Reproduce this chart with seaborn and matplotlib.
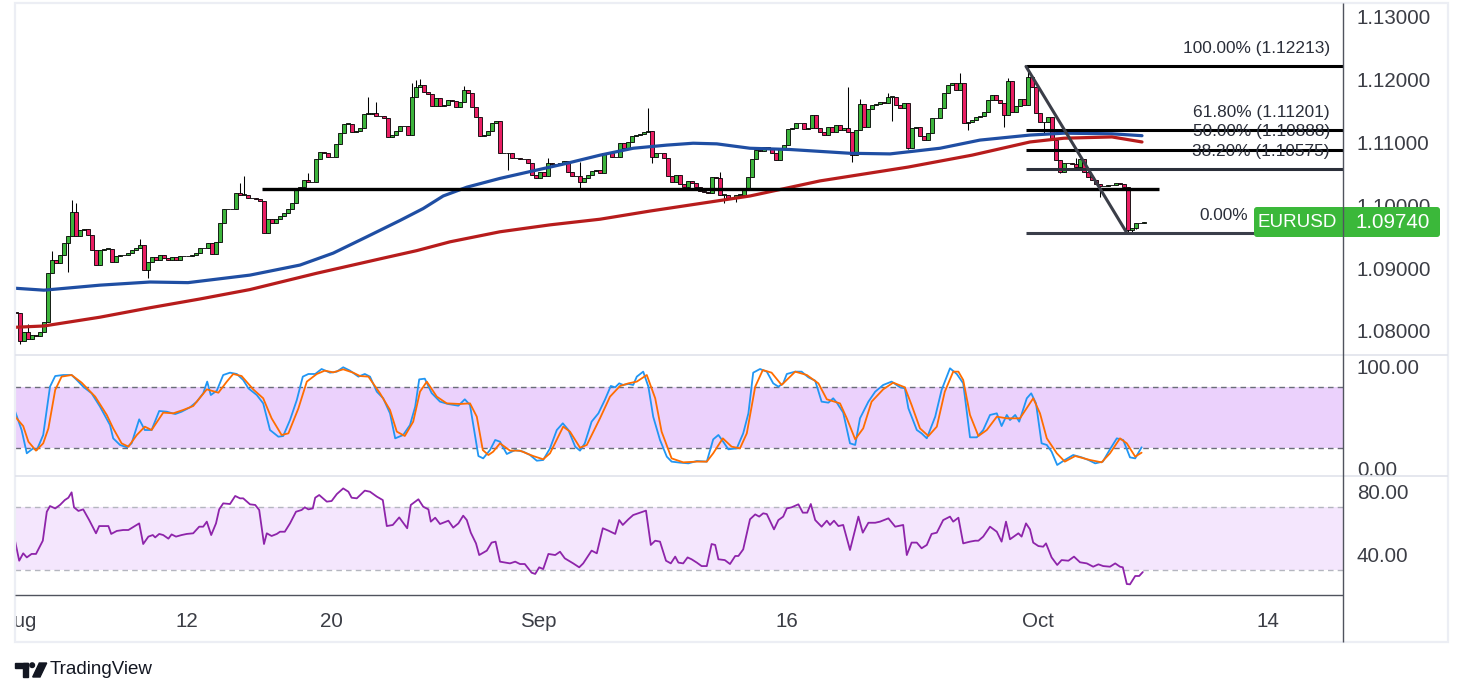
import numpy as np
import matplotlib
matplotlib.use("Agg")
import matplotlib.pyplot as plt
from matplotlib.patches import Rectangle, FancyBboxPatch, Polygon, Circle
import seaborn as sns

# EURUSD 4h candles, Aug 1 -> Oct 8 2024
first_open = 1.0830
closes = [
    1.0829, 1.0784, 1.0798, 1.0787, 1.0794, 1.0792, 1.0798, 1.0814, 1.0892, 1.0913,
    1.0908, 1.0921, 1.0940, 1.0951, 1.0990, 1.0951, 1.0961, 1.0962, 1.0953, 1.0929,
    1.0905, 1.0929, 1.0931, 1.0931, 1.0910, 1.0919, 1.0921, 1.0921, 1.0924, 1.0929,
    1.0932, 1.0937, 1.0897, 1.0910, 1.0918, 1.0913, 1.0921, 1.0916, 1.0913, 1.0918,
    1.0913, 1.0919, 1.0919, 1.0919, 1.0921, 1.0924, 1.0932, 1.0932, 1.0940, 1.0923,
    1.0942, 1.0972, 1.0994, 1.0994, 1.0994, 1.1020, 1.1017, 1.1017, 1.1012, 1.1012,
    1.1010, 1.1007, 1.0956, 1.0978, 1.0972, 1.0978, 1.0983, 1.0988, 1.0994, 1.1004,
    1.1028, 1.1029, 1.1040, 1.1037, 1.1037, 1.1074, 1.1085, 1.1083, 1.1077, 1.1077,
    1.1098, 1.1115, 1.1130, 1.1130, 1.1117, 1.1118, 1.1123, 1.1146, 1.1146, 1.1147,
    1.1142, 1.1142, 1.1139, 1.1109, 1.1112, 1.1118, 1.1126, 1.1126, 1.1112, 1.1173,
    1.1189, 1.1192, 1.1181, 1.1177, 1.1158, 1.1171, 1.1158, 1.1160, 1.1168, 1.1166,
    1.1157, 1.1165, 1.1184, 1.1179, 1.1157, 1.1141, 1.1110, 1.1112, 1.1118, 1.1131,
    1.1134, 1.1083, 1.1083, 1.1083, 1.1075, 1.1075, 1.1074, 1.1074, 1.1067, 1.1048,
    1.1044, 1.1053, 1.1047, 1.1067, 1.1066, 1.1066, 1.1067, 1.1071, 1.1053, 1.1047,
    1.1047, 1.1037, 1.1044, 1.1048, 1.1055, 1.1056, 1.1052, 1.1083, 1.1083, 1.1077,
    1.1077, 1.1099, 1.1091, 1.1101, 1.1110, 1.1112, 1.1114, 1.1117, 1.1118, 1.1077,
    1.1083, 1.1083, 1.1075, 1.1047, 1.1037, 1.1048, 1.1034, 1.1029, 1.1039, 1.1036,
    1.1029, 1.1023, 1.1021, 1.1020, 1.1045, 1.1044, 1.1017, 1.1017, 1.1012, 1.1012,
    1.1017, 1.1017, 1.1024, 1.1045, 1.1074, 1.1088, 1.1087, 1.1093, 1.1091, 1.1083,
    1.1072, 1.1090, 1.1096, 1.1122, 1.1123, 1.1131, 1.1131, 1.1122, 1.1123, 1.1144,
    1.1123, 1.1117, 1.1112, 1.1125, 1.1117, 1.1128, 1.1120, 1.1123, 1.1117, 1.1080,
    1.1120, 1.1161, 1.1125, 1.1153, 1.1160, 1.1161, 1.1165, 1.1163, 1.1173, 1.1173,
    1.1160, 1.1155, 1.1163, 1.1091, 1.1123, 1.1125, 1.1110, 1.1104, 1.1115, 1.1139,
    1.1139, 1.1155, 1.1179, 1.1192, 1.1195, 1.1184, 1.1195, 1.1131, 1.1133, 1.1136,
    1.1141, 1.1142, 1.1149, 1.1168, 1.1176, 1.1168, 1.1163, 1.1144, 1.1198, 1.1149,
    1.1158, 1.1169, 1.1160, 1.1204, 1.1189, 1.1147, 1.1133, 1.1133, 1.1141, 1.1104,
    1.1072, 1.1053, 1.1067, 1.1067, 1.1066, 1.1061, 1.1074, 1.1053, 1.1045, 1.1040,
    1.1034, 1.1031, 1.1031, 1.1032, 1.1032, 1.1036, 1.1034, 1.1029, 1.0961, 1.0964,
    1.0972, 1.0972, 1.0974,
]
# candles whose wicks stick out visibly
wick_highs = {3: 1.0811, 9: 1.0927, 14: 1.1009, 15: 1.1004, 31: 1.0946, 56: 1.1036,
              57: 1.1047, 73: 1.1052, 88: 1.1173, 90: 1.1165, 99: 1.1195, 100: 1.1200,
              101: 1.1202, 112: 1.1190, 133: 1.1075, 141: 1.1069, 158: 1.1155,
              176: 1.1053, 208: 1.1189, 211: 1.1169, 218: 1.1179, 223: 1.1163,
              236: 1.1211, 248: 1.1203, 253: 1.12213, 265: 1.1075}
wick_lows = {1: 1.0780, 13: 1.0894, 33: 1.0884, 123: 1.1056, 141: 1.1026, 159: 1.1067,
             177: 1.1004, 180: 1.1005, 209: 1.1069, 219: 1.1134, 223: 1.1090,
             237: 1.1131, 238: 1.1120, 247: 1.1125, 257: 1.1114, 261: 1.1052,
             271: 1.1013, 278: 1.0958, 279: 1.09563, 280: 1.0962}

# moving averages, sampled along the curves (candle index, price)
ma_blue_x = [0, 7, 21, 33.5, 43, 58.5, 71, 79.3, 87.7, 96, 101.8, 106.8, 112.7, 121,
             129.3, 137.7, 146, 154.3, 162.7, 169.3, 175.2, 183.5, 193.5, 208.5, 218.5,
             231, 241, 253.5, 262, 274, 281.5]
ma_blue_y = [1.0868, 1.0865, 1.0873, 1.0878, 1.0877, 1.0889, 1.0905, 1.0924, 1.0950,
             1.0976, 1.0995, 1.1015, 1.1029, 1.1043, 1.1055, 1.1067, 1.1080, 1.1091,
             1.1096, 1.1099, 1.1098, 1.1091, 1.1089, 1.1083, 1.1082, 1.1091, 1.1104,
             1.1112, 1.1115, 1.1114, 1.1111]
ma_red_x = [0, 7, 21, 33.5, 46, 58.5, 75.2, 91.8, 100.2, 108.5, 121, 133.5, 146, 158.5,
            171, 183.5, 201, 223, 239, 253.5, 262, 274, 281.5]
ma_red_y = [1.0806, 1.0808, 1.0822, 1.0837, 1.0851, 1.0866, 1.0892, 1.0916, 1.0928,
            1.0942, 1.0958, 1.0969, 1.0978, 1.0991, 1.1003, 1.1015, 1.1039, 1.1061,
            1.1080, 1.1101, 1.1107, 1.1109, 1.1101]

# stochastic %K / %D
stoch_k_x = [-0.2, 1.4, 2.7, 4.3, 5.2, 6.8, 8.5, 9.8, 11.8, 13.9, 15.2, 16.8, 18.9, 21.0,
             23.5, 24.3, 26.0, 27.7, 28.9, 30.8, 32.2, 33.9, 35.8, 37.7, 39.8, 41.4, 43.5,
             45.2, 46.8, 47.8, 48.7, 50.2, 51.8, 53.5, 55.2, 56.8, 58.1, 60.2, 61.8, 63.5,
             65.6, 66.8, 68.5, 70.2, 71.7, 73.1, 74.8, 76.4, 78.5, 80.2, 81.8, 83.5, 85.6,
             87.2, 88.5, 90.2, 91.8, 93.5, 94.8, 96.8, 98.5, 99.8, 100.8, 102.2, 103.9,
             106.0, 108.0, 110.6, 112.2, 113.5, 115.6, 116.8, 118.5, 119.8, 121.0, 122.7,
             124.8, 126.8, 128.5, 130.2, 131.8, 133.5, 135.2, 136.7, 138.1, 139.8, 141.0,
             142.2, 143.9, 145.6, 147.2, 148.7, 149.8, 150.8, 151.8, 153.1, 154.3, 155.2,
             156.8, 158.1, 159.3, 161.0, 162.7, 163.9, 166.0, 168.1, 170.2, 172.7, 174.3,
             175.6, 176.8, 178.1, 180.2, 181.8, 183.1, 184.3, 186.0, 187.7, 189.3, 190.6,
             191.8, 192.7, 194.8, 196.4, 198.1, 199.8, 201.4, 203.1, 204.3, 205.2, 206.8,
             208.5, 209.8, 211.0, 213.1, 214.8, 216.8, 218.9, 221.0, 222.2, 223.1, 225.2,
             226.4, 227.7, 229.8, 231.4, 233.5, 235.2, 236.8, 238.5, 240.2, 241.8, 243.5,
             245.2, 246.4, 247.7, 248.5, 249.8, 250.8, 252.7, 253.8, 255.0, 256.4, 257.7,
             258.9, 260.3, 262.2, 264.3, 266.4, 268.1, 269.8, 271.7, 273.5, 275.2, 276.8,
             278.5, 279.8, 281.4]
stoch_k_y = [55.7, 37.7, 14.8, 19.7, 18.0, 32.8, 80.3, 90.8, 91.8, 91.8, 86.9, 80.3, 73.8,
             60.7, 42.6, 29.5, 23.0, 20.7, 24.6, 48.2, 37.7, 37.7, 56.4, 55.7, 53.4, 55.7,
             60.0, 65.6, 73.8, 85.3, 72.1, 76.4, 91.8, 94.1, 92.8, 86.9, 78.7, 72.1, 63.9,
             37.7, 31.1, 31.8, 47.5, 67.2, 90.2, 92.8, 92.8, 97.7, 94.1, 95.1, 99.4, 96.1,
             90.2, 92.8, 90.2, 75.4, 68.9, 54.1, 29.5, 32.8, 42.6, 60.7, 87.5, 88.2, 74.1,
             65.6, 63.3, 61.6, 67.9, 62.3, 12.1, 9.8, 18.0, 27.9, 26.2, 14.1, 18.0, 16.4,
             13.1, 7.5, 8.2, 19.7, 37.7, 44.3, 37.7, 21.3, 17.4, 24.6, 45.9, 54.1, 67.2,
             81.0, 79.7, 83.6, 82.0, 83.0, 82.0, 90.2, 95.1, 80.3, 50.8, 27.9, 11.5, 6.6,
             5.6, 4.9, 7.2, 6.6, 28.5, 32.8, 26.2, 18.7, 19.7, 34.4, 54.1, 94.1, 97.7, 95.1,
             83.6, 80.3, 83.6, 92.8, 95.1, 95.1, 89.5, 86.2, 65.6, 64.6, 68.9, 64.6, 54.8,
             24.6, 23.0, 49.2, 65.6, 75.4, 82.0, 85.3, 79.7, 78.7, 59.0, 37.7, 34.4, 29.5,
             50.8, 77.1, 98.4, 92.8, 83.6, 30.5, 30.5, 37.7, 52.5, 54.1, 41.6, 52.5, 47.5,
             52.5, 45.9, 68.9, 73.8, 63.9, 24.6, 23.0, 16.4, 3.3, 8.2, 13.1, 10.8, 8.2, 4.9,
             6.6, 18.7, 29.5, 27.9, 10.8, 9.8, 20.7]
stoch_d_x = [-0.2, 1.8, 3.1, 5.0, 6.8, 8.1, 9.8, 11.4, 13.9, 16.4, 19.8, 22.7, 24.3, 26.4,
             28.1, 30.2, 32.2, 33.9, 36.8, 39.3, 41.8, 44.3, 47.7, 50.6, 52.7, 54.3, 56.4,
             59.3, 61.8, 63.9, 66.4, 68.1, 70.6, 72.7, 75.2, 77.2, 79.3, 81.8, 84.3, 86.0,
             88.1, 91.0, 93.5, 95.2, 97.2, 99.3, 101.0, 102.7, 105.2, 107.7, 111.0, 113.5,
             115.2, 116.7, 118.1, 119.3, 121.0, 123.5, 126.0, 129.3, 131.8, 133.5, 136.8,
             138.5, 141.0, 142.7, 146.0, 148.5, 151.0, 153.1, 155.2, 157.7, 159.8, 161.4,
             163.9, 166.8, 170.2, 172.7, 174.3, 176.7, 178.9, 181.0, 182.7, 184.8, 186.7,
             188.9, 191.4, 194.8, 197.7, 200.6, 202.7, 206.0, 207.7, 209.8, 211.8, 213.9,
             216.8, 219.3, 222.2, 223.9, 226.0, 228.1, 230.2, 232.2, 234.3, 235.6, 236.8,
             238.5, 240.6, 242.7, 245.2, 247.7, 251.0, 254.3, 256.0, 257.7, 260.2, 262.2,
             264.8, 268.5, 271.4, 273.5, 276.0, 277.7, 279.8, 281.4]
stoch_d_y = [50.8, 41.6, 26.2, 17.4, 24.6, 39.3, 77.1, 90.2, 91.8, 84.3, 70.5, 52.5, 39.3,
             24.6, 21.3, 32.8, 41.0, 37.7, 54.8, 54.1, 57.4, 61.3, 77.7, 74.4, 85.3, 92.8,
             90.8, 77.7, 68.9, 49.2, 32.8, 34.4, 59.0, 85.3, 92.8, 96.1, 94.4, 97.4, 94.1,
             90.8, 90.2, 73.8, 57.4, 36.1, 31.8, 45.9, 75.4, 85.3, 70.5, 63.9, 63.3, 63.9,
             50.8, 18.0, 13.1, 16.4, 24.6, 17.4, 17.4, 12.1, 8.9, 14.8, 41.0, 36.1, 20.3,
             23.0, 49.2, 70.5, 81.0, 83.6, 85.3, 91.8, 68.9, 36.1, 9.8, 5.9, 6.6, 6.6, 14.8,
             29.5, 21.3, 19.7, 34.4, 80.3, 96.7, 94.1, 82.0, 95.1, 91.8, 83.6, 67.9, 63.9,
             49.2, 28.5, 39.3, 65.6, 77.7, 84.3, 79.7, 62.3, 39.3, 31.8, 41.0, 75.4, 95.1,
             95.1, 86.9, 52.5, 31.8, 37.7, 50.8, 49.2, 49.2, 68.9, 54.1, 29.5, 14.8, 6.6,
             12.1, 8.2, 5.9, 14.8, 29.5, 24.6, 11.5, 15.4]

# RSI
rsi_x = [-0.2, 0.8, 1.8, 2.7, 3.9, 5.0, 6.7, 7.7, 8.5, 9.8, 11.0, 12.2, 13.1, 13.9, 14.5,
         15.6, 16.8, 18.3, 20.0, 20.8, 23.1, 23.8, 25.2, 26.8, 28.1, 30.8, 31.8, 33.1, 34.2,
         34.8, 35.8, 36.8, 38.1, 38.9, 40.0, 41.4, 42.7, 44.3, 45.8, 46.8, 47.7, 48.8, 50.0,
         50.8, 51.8, 53.5, 54.8, 56.0, 56.8, 58.5, 59.8, 60.8, 62.0, 62.7, 63.9, 65.2, 66.0,
         67.2, 68.5, 70.0, 71.4, 72.2, 73.1, 74.2, 74.8, 75.8, 77.7, 78.9, 80.2, 81.8, 83.1,
         83.9, 85.2, 87.2, 88.5, 90.2, 91.7, 92.7, 94.2, 95.8, 96.8, 97.8, 98.7, 100.6,
         101.8, 103.1, 103.7, 104.8, 106.0, 108.1, 109.3, 110.6, 111.8, 112.7, 113.7, 115.0,
         115.8, 117.7, 118.9, 119.9, 121.0, 123.5, 124.8, 126.0, 127.2, 128.9, 129.8, 130.8,
         131.8, 133.1, 134.8, 136.0, 137.2, 139.3, 140.8, 141.8, 143.9, 145.2, 146.7, 148.1,
         149.8, 150.8, 151.7, 153.1, 154.3, 156.0, 157.5, 158.7, 159.8, 161.0, 162.5, 163.7,
         164.8, 165.6, 166.8, 167.9, 168.9, 170.2, 171.4, 172.7, 173.9, 174.8, 175.6, 177.2,
         178.5, 179.8, 180.6, 181.8, 183.5, 184.8, 185.8, 186.8, 187.7, 189.5, 190.6, 191.8,
         192.7, 193.9, 195.6, 196.7, 197.8, 198.7, 199.8, 201.4, 202.7, 203.5, 204.5, 205.6,
         206.8, 208.5, 210.6, 211.7, 213.1, 214.8, 216.0, 218.1, 219.8, 221.8, 222.7, 223.9,
         225.2, 226.4, 227.7, 228.9, 230.2, 231.8, 233.5, 234.3, 235.6, 236.8, 238.5, 239.8,
         240.6, 241.8, 243.5, 245.2, 246.4, 247.5, 248.5, 250.6, 251.4, 252.5, 253.5, 254.3,
         255.6, 256.8, 257.5, 258.9, 260.3, 261.4, 263.1, 264.5, 266.0, 267.7, 269.3, 270.6,
         271.8, 273.5, 274.8, 276.0, 276.7, 277.7, 278.5, 279.8, 280.8, 281.7]
rsi_y = [48.0, 35.9, 40.6, 38.0, 40.2, 40.2, 48.6, 67.0, 70.6, 69.1, 71.3, 74.4, 75.9, 79.3,
         69.8, 67.5, 68.5, 61.7, 53.3, 57.9, 57.9, 52.9, 54.8, 55.4, 55.4, 59.6, 46.5, 51.2,
         52.2, 50.7, 52.9, 52.2, 49.9, 52.6, 51.2, 52.2, 52.9, 53.3, 57.5, 57.5, 60.7, 52.2,
         59.6, 68.5, 72.3, 71.9, 77.0, 75.5, 75.5, 71.7, 71.3, 68.1, 46.5, 53.3, 51.6, 52.9,
         54.3, 54.3, 59.6, 67.0, 68.1, 69.8, 68.5, 69.1, 75.9, 77.6, 73.4, 73.8, 78.2, 81.8,
         79.7, 75.9, 75.5, 80.4, 79.7, 76.6, 74.4, 57.9, 58.6, 63.4, 60.0, 56.5, 71.3, 74.9,
         70.2, 68.5, 60.7, 63.2, 59.2, 61.3, 56.9, 59.6, 64.5, 61.7, 53.7, 46.9, 39.5, 42.3,
         47.4, 48.0, 35.3, 34.2, 35.3, 33.8, 33.8, 28.3, 27.5, 31.7, 30.6, 40.2, 39.5, 41.6,
         37.4, 34.2, 31.7, 34.2, 42.3, 40.6, 56.5, 55.0, 52.9, 61.7, 58.6, 62.2, 64.9, 66.4,
         67.7, 45.9, 48.6, 48.0, 35.9, 34.2, 38.5, 34.7, 34.2, 38.0, 36.8, 34.7, 32.5, 32.5,
         46.5, 45.9, 36.8, 36.3, 33.8, 38.9, 38.9, 43.1, 62.2, 65.3, 63.9, 66.0, 65.5, 55.8,
         61.7, 63.9, 69.1, 69.8, 71.7, 66.4, 66.4, 71.9, 61.7, 57.5, 61.3, 58.6, 61.3, 57.9,
         58.6, 42.7, 63.9, 53.7, 60.0, 60.0, 60.7, 62.8, 57.5, 58.6, 39.5, 47.4, 47.4, 43.8,
         45.9, 52.9, 53.7, 61.7, 63.9, 60.7, 63.2, 46.9, 48.0, 48.6, 48.6, 51.2, 57.5, 54.3,
         48.0, 60.7, 49.5, 53.3, 51.2, 59.6, 55.8, 47.4, 45.2, 44.8, 46.9, 38.0, 33.2, 36.3,
         35.9, 38.5, 34.9, 34.2, 32.1, 33.6, 32.5, 32.1, 34.2, 32.1, 31.7, 21.1, 20.9, 26.2,
         26.2, 28.7]

# drawings on the chart
fib_names = ["100.00%", "61.80%", "50.00%", "38.20%", "0.00%"]
fib_prices = [1.12213, 1.11201, 1.10888, 1.10575, 1.09563]
fib_colors = ["#000000", "#000000", "#000000", "#2b2f3a", "#3a3e4a"]
fib_start = 252.5
trend_x = [252.5, 277.7]
trend_y = [1.12213, 1.09563]
support_price = 1.1026
support_x = [61.5, 285.8]
last_price = 1.09740

price_ticks = [1.08, 1.09, 1.10, 1.11, 1.12, 1.13]
date_ticks = [0.8, 42.75, 78.75, 130.5, 192.75, 255.5, 313]
date_labels = ["Aug", "12", "20", "Sep", "16", "Oct", "14"]

GREEN = "#3db43c"
PINK = "#e91e63"
TXT = "#3b3d45"

sns.set_style("white")
plt.rcParams["font.family"] = ["Liberation Sans", "DejaVu Sans"]

W, H = 1463, 696
fig = plt.figure(figsize=(W / 100, H / 100), dpi=100)
fig.patch.set_facecolor("white")


def pane(top, bottom):
    return fig.add_axes([15 / W, 1 - bottom / H, 1328 / W, (bottom - top) / H])


ax_p = pane(3, 355)
ax_s = pane(355, 476)
ax_r = pane(476, 595)
XLIM = (-0.25, 331.75)

for ax in (ax_p, ax_s, ax_r):
    ax.set_xlim(*XLIM)
    for sp in ax.spines.values():
        sp.set_visible(False)
    ax.set_facecolor("none")
    ax.yaxis.tick_right()
    ax.tick_params(axis="y", length=0, pad=10, labelsize=14.8, labelcolor=TXT)
    ax.tick_params(axis="x", length=0)
    ax.set_xticks([])

# ---- price pane
o = np.array([first_open] + closes[:-1])
c = np.array(closes)
idx = np.arange(len(c))
hi = np.maximum(o, c)
lo = np.minimum(o, c)
for k, v in wick_highs.items():
    hi[k] = max(hi[k], v)
for k, v in wick_lows.items():
    lo[k] = min(lo[k], v)
up = c >= o

ax_p.vlines(idx, lo, hi, color="black", lw=0.75, zorder=3)
ax_p.bar(idx, np.maximum(np.abs(c - o), 0.00005), bottom=np.minimum(o, c), width=0.8,
         color=np.where(up, GREEN, PINK), edgecolor="black", linewidth=0.6, zorder=4)

sns.lineplot(x=ma_blue_x, y=ma_blue_y, ax=ax_p, color="#1f4ea3", linewidth=2.3,
             estimator=None, zorder=5)
sns.lineplot(x=ma_red_x, y=ma_red_y, ax=ax_p, color="#b71c1c", linewidth=2.3,
             estimator=None, zorder=5)

ax_p.hlines(support_price, support_x[0], support_x[1], color="black", lw=2.4, zorder=6)
for name, pr, col in zip(fib_names, fib_prices, fib_colors):
    ax_p.hlines(pr, fib_start, XLIM[1], color=col, lw=2.2, zorder=6)
    if name == "0.00%":
        # price part of this label sits under the last-price tag
        ax_p.annotate(name, xy=(308, pr), xytext=(0, 12.8), textcoords="offset points",
                      ha="right", va="center", fontsize=12.4, color="#2a2e39", zorder=7)
    else:
        ax_p.annotate(f"{name} ({pr:.5f})", xy=(328.5, pr), xytext=(0, 12.8),
                      textcoords="offset points", ha="right", va="center",
                      fontsize=12.4, color="#2a2e39", zorder=7)
ax_p.plot(trend_x, trend_y, color="#3b3e48", lw=2.2, zorder=6, solid_capstyle="round")

ax_p.set_ylim(1.076178, 1.132229)
ax_p.set_yticks(price_ticks)
ax_p.set_yticklabels([f"{t:.5f}" for t in price_ticks])

# ---- stochastic pane
ax_s.axhspan(20, 80, color="#ebd1fc", lw=0, zorder=0)
for lvl in (20, 80):
    ax_s.axhline(lvl, color="#6a6d78", lw=1.0, ls=(0, (4, 3)), zorder=1)
sns.lineplot(x=stoch_k_x, y=stoch_k_y, ax=ax_s, color="#2196f3", linewidth=1.3,
             estimator=None, zorder=3)
sns.lineplot(x=stoch_d_x, y=stoch_d_y, ax=ax_s, color="#ff6d00", linewidth=1.3,
             estimator=None, zorder=4)
ax_s.set_ylim(-7.54, 111.48)
ax_s.set_yticks([0, 100])
ax_s.set_yticklabels(["0.00", "100.00"])

# ---- RSI pane
ax_r.axhspan(30, 70, color="#f4e6fd", lw=0, zorder=0)
for lvl in (30, 70):
    ax_r.axhline(lvl, color="#b4b6bf", lw=1.0, ls=(0, (4, 3)), zorder=1)
sns.lineplot(x=rsi_x, y=rsi_y, ax=ax_r, color="#8e24aa", linewidth=1.3,
             estimator=None, zorder=3)
ax_r.set_ylim(14.13, 89.68)
ax_r.set_yticks([40, 80])
ax_r.set_yticklabels(["40.00", "80.00"])
ax_r.set_xticks(date_ticks)
ax_r.set_xticklabels(date_labels)
ax_r.tick_params(axis="x", length=0, pad=12, labelsize=14.8, labelcolor=TXT)
for ax in (ax_p, ax_s, ax_r):
    ax.set_xlabel("")
    ax.set_ylabel("")

# ---- frame, separators, price tag, logo (pixel space)
ov = fig.add_axes([0, 0, 1, 1], zorder=10)
ov.set_xlim(0, W)
ov.set_ylim(H, 0)
ov.axis("off")
ov.add_patch(Rectangle((0, 590), 14.5, 60, color="white", zorder=1))
ov.add_patch(Rectangle((15, 3), 1433, 639, fill=False, ec="#eceef4", lw=1.6, zorder=2))
ov.hlines([355, 476], 15, 1448, color="#e0e3eb", lw=1.2, zorder=2)
ov.hlines(595, 15, 1343, color="#50535e", lw=1.0, zorder=2)
ov.add_patch(FancyBboxPatch((1254, 207), 186, 30, boxstyle="round,pad=0,rounding_size=3",
                            fc="#3bb83a", ec="none", zorder=3))
ov.text(1297, 222.5, "EURUSD", color="white", fontsize=13.5, ha="center", va="center",
        zorder=4)
ov.text(1393, 222.5, f"{last_price:.5f}", color="white", fontsize=14.8, ha="center",
        va="center", zorder=4)
ov.vlines(1343, 3, 642, color="#50535e", lw=1.0, zorder=5)

# TradingView logo
LOGO = "#131722"
ov.add_patch(Rectangle((15, 663), 13, 4.5, color=LOGO, zorder=4))
ov.add_patch(Rectangle((22.7, 663), 5.6, 14, color=LOGO, zorder=4))
ov.add_patch(Circle((32.2, 665.2), 2.3, color=LOGO, zorder=4))
ov.add_patch(Polygon([(32.7, 677), (40, 677), (46.7, 663), (39.3, 663)], color=LOGO,
                     zorder=4))
ov.text(50, 670, "TradingView", color=LOGO, fontsize=13.5, ha="left", va="center", zorder=4)

fig.savefig("out.png", dpi=100, facecolor="white")
